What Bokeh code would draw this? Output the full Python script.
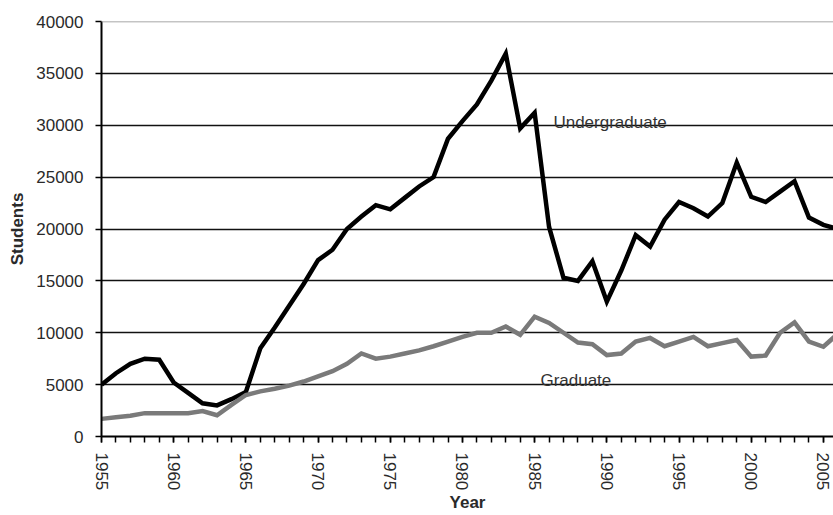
from bokeh.plotting import figure
from bokeh.models import FixedTicker, NumeralTickFormatter, Label, Span, Range1d
from bokeh.embed import file_html
from bokeh.resources import INLINE

years = list(range(1955, 2007))
undergraduate = [5000, 6100, 7000, 7500, 7400, 5200, 4200, 3200, 3000, 3600,
                 4300, 8500, 10500, 12600, 14700, 17000, 18000, 20000, 21200, 22300,
                 21900, 23000, 24100, 25000, 28700, 30400, 32000, 34300, 36900, 29700,
                 31200, 20200, 15300, 15000, 16900, 13000, 16000, 19400, 18300, 20900,
                 22600, 22000, 21200, 22500, 26400, 23100, 22600, 23600, 24600, 21100,
                 20400, 20000]
graduate = [1700, 1850, 2000, 2250, 2250, 2250, 2250, 2450, 2050, 3050,
            4000, 4350, 4600, 4900, 5300, 5800, 6300, 7000, 8000, 7500,
            7700, 8000, 8300, 8700, 9150, 9600, 10000, 10000, 10600, 9800,
            11550, 10950, 10000, 9050, 8900, 7850, 8000, 9150, 9500, 8700,
            9150, 9600, 8700, 9000, 9300, 7700, 7800, 10000, 11000, 9150,
            8650, 9900]
x_ticks = list(range(1955, 2006, 5))
x_minor = list(range(1955, 2007))
y_ticks = list(range(0, 40001, 5000))

series_labels = ["Undergraduate", "Graduate"]
label_pos = [(1986.3, 30300), (1985.4, 5400)]

FONT = "Liberation Sans"

p = figure(width=833, height=515, output_backend="svg", toolbar_location=None,
           x_range=Range1d(1955, 2005.7), y_range=Range1d(0, 40000),
           min_border_left=101, min_border_top=21, min_border_right=0,
           min_border_bottom=78)
p.outline_line_color = None
p.background_fill_color = "white"
p.border_fill_color = "white"

p.line(years, undergraduate, line_color="black", line_width=4.5, line_join="miter")
p.line(years, graduate, line_color="#7a7a7a", line_width=4.5, line_join="miter")

# axes
p.xaxis.ticker = FixedTicker(ticks=x_ticks, minor_ticks=x_minor)
p.yaxis.ticker = FixedTicker(ticks=y_ticks)
p.yaxis.formatter = NumeralTickFormatter(format="0")
p.xaxis.major_label_orientation = "vertical"

for ax in (p.xaxis, p.yaxis):
    ax.axis_line_color = "black"
    ax.axis_line_width = 2
    ax.major_tick_line_color = "black"
    ax.major_tick_line_width = 1.5
    ax.major_tick_out = 6
    ax.major_tick_in = 0
    ax.major_label_text_font = FONT
    ax.major_label_text_font_size = "17px"
    ax.major_label_text_color = "#2a2a2a"
    ax.axis_label_text_font = FONT
    ax.axis_label_text_font_style = "bold"
    ax.axis_label_text_color = "#2a2a2a"
    ax.axis_label_text_font_size = "17px"

p.yaxis.major_label_standoff = 12
p.xaxis.major_label_standoff = 10
p.xaxis.minor_tick_line_color = "black"
p.xaxis.minor_tick_line_width = 1.5
p.xaxis.minor_tick_out = 6
p.xaxis.minor_tick_in = 0
p.yaxis.minor_tick_line_color = None
p.xaxis.axis_label = "Year"
p.xaxis.axis_label_standoff = 0
p.yaxis.axis_label = "Students"
p.yaxis.axis_label_standoff = 6

# grid
p.xgrid.grid_line_color = None
p.ygrid.ticker = FixedTicker(ticks=y_ticks[1:-1])
p.ygrid.grid_line_color = "#111111"
p.ygrid.grid_line_width = 1.6
p.add_layout(Span(location=y_ticks[-1], dimension="width", line_color="#8a8a8a", line_width=1.5))

for txt, (lx, ly) in zip(series_labels, label_pos):
    p.add_layout(Label(x=lx, y=ly, text=txt, text_font=FONT, text_font_size="17px",
                       text_color="#333333", text_baseline="alphabetic"))

open("out.html", "w").write(file_html(p, INLINE))
